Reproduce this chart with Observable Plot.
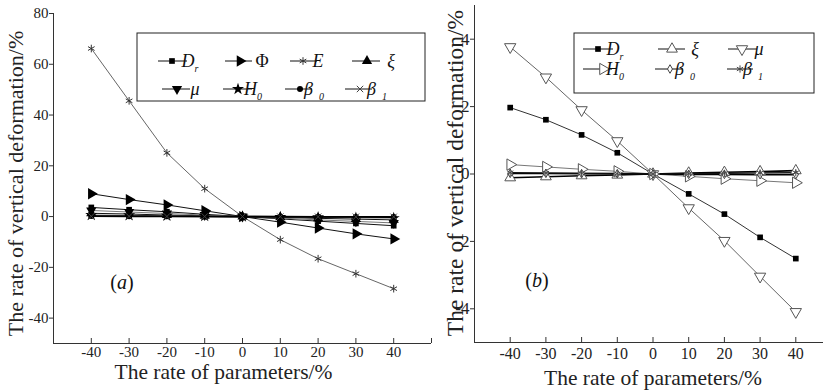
<!DOCTYPE html>
<html>
<head>
<meta charset="utf-8">
<script src="https://cdn.jsdelivr.net/npm/d3@7"></script>
<script src="https://cdn.jsdelivr.net/npm/@observablehq/plot@0.6"></script>
<style>
  html, body { margin: 0; padding: 0; background: #fff; }
  #wrap { position: relative; width: 823px; height: 392px; overflow: hidden; display: flex; }
  #panelA { width: 440px; flex: none; }
  #panelB { width: 383px; flex: none; overflow: visible; }
  svg { overflow: visible; max-width: none !important; }
</style>
</head>
<body>
<div id="wrap"><div id="panelA"></div><div id="panelB"></div></div>
<script>
// Change of each parameter (%)
const params = [-40, -30, -20, -10, 0, 10, 20, 30, 40];

// Panel (a): rate of vertical deformation (%)
const aDr    = [3.6, 2.7, 1.9, 0.9, 0, -0.9, -1.8, -2.7, -3.6];
const aPhi   = [9.0, 6.7, 4.6, 2.3, 0, -2.2, -4.5, -6.8, -8.8];
const aE     = [66.2, 45.6, 25.1, 11.0, 0, -9.1, -16.6, -22.5, -28.4];
const aXi    = [1.3, 1.0, 0.6, 0.3, 0, -0.3, -0.7, -1.0, -1.3];
const aMu    = [2.4, 1.8, 1.2, 0.6, 0, -0.6, -1.3, -1.9, -2.5];
const aH0    = [0.6, 0.5, 0.3, 0.2, 0, -0.2, -0.3, -0.5, -0.6];
const aBeta0 = [0.2, 0.15, 0.1, 0.05, 0, -0.05, -0.1, -0.15, -0.2];
const aBeta1 = [0.1, 0.08, 0.05, 0.03, 0, -0.03, -0.05, -0.08, -0.1];

// Panel (b): rate of vertical deformation (%)
const bDr    = [1.97, 1.61, 1.16, 0.63, 0, -0.59, -1.19, -1.88, -2.51];
const bXi    = [-0.11, -0.08, -0.05, -0.03, 0, 0.03, 0.05, 0.07, 0.10];
const bMu    = [3.77, 2.87, 1.90, 0.98, 0, -1.01, -1.98, -3.04, -4.09];
const bH0    = [0.28, 0.21, 0.14, 0.08, 0, -0.07, -0.14, -0.20, -0.26];
const bBeta0 = [0.02, 0.02, 0.01, 0.01, 0, -0.01, -0.01, -0.02, -0.02];
const bBeta1 = [0.04, 0.03, 0.02, 0.01, 0, 0.01, 0.02, 0.03, 0.04];

// Axis ticks
const xTicks = [-50, -40, -30, -20, -10, 0, 10, 20, 30, 40, 50];
const yTicksA = [-40, -20, 0, 20, 40, 60, 80];
const yTicksB = [-4, -2, 0, 2, 4];

const xTitle = "The rate of parameters/%";
const yTitle = "The rate of vertical deformation/%";
const FONT = "'Liberation Serif', 'Times New Roman', serif";
const INK = "#222";

const rows = (vals) => params.map((p, i) => ({x: p, y: vals[i]}));

// Series styling: marker symbol, rotation, fill, marker stroke, line colour
const seriesA = [
  {key: "Dr",    vals: aDr,    symbol: "square",   rotate: 0,   r: 3.2, fill: "#000", stroke: "none", line: "#111", lw: 1},
  {key: "Phi",   vals: aPhi,   symbol: "triangle", rotate: 90,  r: 4.2, fill: "#000", stroke: "none", line: "#111", lw: 1},
  {key: "E",     vals: aE,     symbol: "asterisk", rotate: 0,   r: 3.6, fill: "none", stroke: "#333", line: "#666", lw: 1},
  {key: "xi",    vals: aXi,    symbol: "triangle", rotate: 0,   r: 3.8, fill: "#000", stroke: "none", line: "#111", lw: 1},
  {key: "mu",    vals: aMu,    symbol: "triangle", rotate: 180, r: 3.8, fill: "#000", stroke: "none", line: "#777", lw: 1},
  {key: "H0",    vals: aH0,    symbol: "star",     rotate: 0,   r: 3.8, fill: "#000", stroke: "none", line: "#777", lw: 1},
  {key: "beta0", vals: aBeta0, symbol: "circle",   rotate: 0,   r: 3.0, fill: "#000", stroke: "none", line: "#000", lw: 1.6},
  {key: "beta1", vals: aBeta1, symbol: "times",    rotate: 0,   r: 3.0, fill: "none", stroke: "#444", line: "#000", lw: 1.6}
];

const seriesB = [
  {key: "Dr",    vals: bDr,    symbol: "square",   rotate: 0,   r: 3.2, fill: "#000", stroke: "none", line: "#333", lw: 1},
  {key: "xi",    vals: bXi,    symbol: "triangle", rotate: 0,   r: 4.0, fill: "#fff", stroke: "#555", line: "#000", lw: 1.6},
  {key: "mu",    vals: bMu,    symbol: "triangle", rotate: 180, r: 4.2, fill: "#fff", stroke: "#555", line: "#666", lw: 1},
  {key: "H0",    vals: bH0,    symbol: "triangle", rotate: 90,  r: 4.2, fill: "#fff", stroke: "#555", line: "#777", lw: 1},
  {key: "beta0", vals: bBeta0, symbol: "diamond",  rotate: 0,   r: 2.6, fill: "#fff", stroke: "#444", line: "#000", lw: 1.6},
  {key: "beta1", vals: bBeta1, symbol: "asterisk", rotate: 0,   r: 3.4, fill: "none", stroke: "#444", line: "#111", lw: 1.2}
];

function seriesMarks(series) {
  const marks = [];
  for (const s of series) {
    marks.push(Plot.line(rows(s.vals), {x: "x", y: "y", stroke: s.line, strokeWidth: s.lw}));
  }
  for (const s of series) {
    marks.push(Plot.dot(rows(s.vals), {
      x: "x", y: "y", symbol: s.symbol, rotate: s.rotate, r: s.r,
      fill: s.fill, stroke: s.stroke, strokeWidth: 1
    }));
  }
  return marks;
}

function panel({width, margins, yDomain, yTicks, series, xFont, yFont, titleFont, yTitleFont, xTitleOffset, yTitleOffset, xLabelPad, yLabelPad}) {
  return Plot.plot({
    width, height: 392,
    ...margins,
    x: {domain: [-50, 50], axis: null},
    y: {domain: yDomain, axis: null},
    style: {fontFamily: FONT, color: INK, background: "transparent", overflow: "visible", maxWidth: "none"},
    marks: [
      // tick marks pointing into the plot along the x axis
      Plot.axisX(xTicks, {tickSize: 5, dy: -5, fill: "none", label: null, stroke: "#333"}),
      Plot.axisX(xTicks, {tickSize: 0, tickPadding: xLabelPad, fontSize: xFont, fill: INK, label: null,
        tickFormat: d => (Math.abs(d) === 50 ? "" : String(d))}),
      Plot.axisY(yTicks, {tickSize: 4, tickPadding: yLabelPad, fontSize: yFont, fill: INK, stroke: "#333", label: null,
        tickFormat: d => String(d)}),
      Plot.ruleX([-50], {stroke: "#333"}),
      Plot.ruleY([yDomain[0]], {stroke: "#333"}),
      Plot.text([xTitle], {text: d => d, frameAnchor: "bottom", dx: xTitleOffset[0], dy: xTitleOffset[1],
        textAnchor: "middle", lineAnchor: "middle", fontSize: titleFont, fill: INK}),
      Plot.text([yTitle], {text: d => d, frameAnchor: "left", rotate: -90, dx: yTitleOffset[0], dy: yTitleOffset[1],
        textAnchor: "middle", lineAnchor: "middle", fontSize: yTitleFont, fill: INK}),
      ...seriesMarks(series)
    ]
  });
}

const chartA = panel({
  width: 440,
  margins: {marginLeft: 53, marginRight: 9, marginTop: 13, marginBottom: 49},
  yDomain: [-50, 80], yTicks: yTicksA, series: seriesA,
  xFont: 15, yFont: 15, titleFont: 21.5, yTitleFont: 22,
  xTitleOffset: [-19, 29], yTitleOffset: [-38, 5], xLabelPad: 3, yLabelPad: 1
});
const chartB = panel({
  width: 400,
  margins: {marginLeft: 34, marginRight: 9, marginTop: 5, marginBottom: 50},
  yDomain: [-5, 5], yTicks: yTicksB, series: seriesB,
  xFont: 16, yFont: 17, titleFont: 21.5, yTitleFont: 23.5,
  xTitleOffset: [0, 36], yTitleOffset: [-19, -1], xLabelPad: 5, yLabelPad: 1
});
document.getElementById("panelA").append(chartA);
document.getElementById("panelB").append(chartB);

// Legend boxes and panel tags
const symbolTypes = {
  square: d3.symbolSquare, triangle: d3.symbolTriangle, asterisk: d3.symbolAsterisk,
  star: d3.symbolStar, circle: d3.symbolCircle, times: d3.symbolTimes, diamond: d3.symbolDiamond
};

const labelsA = {
  Dr: [["D", "i"], ["r", "s"]], Phi: [["Φ", "n"]], E: [["E", "i"]], xi: [["ξ", "i"]],
  mu: [["μ", "i"]], H0: [["H", "i"], ["0", "s"]], beta0: [["β", "i"], ["0", "S"]], beta1: [["β", "i"], ["1", "S"]]
};

function drawLegend(svg, box, items, series, labels) {
  const g = d3.select(svg).append("g").attr("font-family", FONT);
  g.append("rect").attr("x", box[0]).attr("y", box[1]).attr("width", box[2] - box[0]).attr("height", box[3] - box[1])
    .attr("fill", "#fff").attr("stroke", "#222").attr("stroke-width", 1);
  for (const it of items) {
    const s = series.find(d => d.key === it.key);
    g.append("line").attr("x1", it.l0).attr("x2", it.l1).attr("y1", it.y).attr("y2", it.y)
      .attr("stroke", "#111").attr("stroke-width", 1);
    const area = Math.PI * s.r * s.r;
    g.append("path").attr("d", d3.symbol(symbolTypes[s.symbol], area)())
      .attr("transform", `translate(${it.m},${it.y}) rotate(${s.rotate})`)
      .attr("fill", s.fill).attr("stroke", s.stroke === "none" ? null : s.stroke);
    const t = g.append("text").attr("x", it.t).attr("y", it.y + 6).attr("font-size", 18).attr("fill", "#111");
    for (const [str, kind] of labels[it.key]) {
      if (kind === "i") t.append("tspan").attr("font-style", "italic").text(str);
      else if (kind === "n") t.append("tspan").text(str);
      else if (kind === "s") t.append("tspan").attr("font-style", "italic").attr("font-size", 10).attr("dy", 5).text(str);
      else t.append("tspan").attr("font-style", "italic").attr("font-size", 10).attr("dx", 6).attr("dy", 5).text(str);
    }
  }
}

drawLegend(chartA, [137, 33, 425, 101], [
  {key: "Dr", y: 61, l0: 158, l1: 187, m: 172, t: 190},
  {key: "Phi", y: 61, l0: 225, l1: 252, m: 240, t: 262},
  {key: "E", y: 61, l0: 290, l1: 317, m: 303, t: 318},
  {key: "xi", y: 61, l0: 352, l1: 380, m: 367, t: 391},
  {key: "mu", y: 89, l0: 162, l1: 190, m: 177, t: 195},
  {key: "H0", y: 89, l0: 223, l1: 252, m: 238, t: 253},
  {key: "beta0", y: 89, l0: 285, l1: 312, m: 300, t: 314},
  {key: "beta1", y: 89, l0: 345, l1: 372, m: 360, t: 377}
], seriesA, labelsA);

drawLegend(chartB, [134, 33, 374, 93], [
  {key: "Dr", y: 49, l0: 143, l1: 173, m: 158, t: 175},
  {key: "xi", y: 49, l0: 218, l1: 245, m: 232, t: 255},
  {key: "mu", y: 49, l0: 288, l1: 317, m: 302, t: 319},
  {key: "H0", y: 69, l0: 143, l1: 172, m: 163, t: 175},
  {key: "beta0", y: 69, l0: 215, l1: 243, m: 230, t: 245},
  {key: "beta1", y: 69, l0: 287, l1: 313, m: 300, t: 313}
], seriesB, labelsA);

function tag(svg, x, y, letter) {
  const t = d3.select(svg).append("text").attr("x", x).attr("y", y).attr("font-family", FONT)
    .attr("font-size", 20).attr("fill", "#111").attr("text-anchor", "middle").attr("dominant-baseline", "middle");
  t.append("tspan").text("(");
  t.append("tspan").attr("font-style", "italic").text(letter);
  t.append("tspan").text(")");
}
tag(chartA, 122, 284, "a");
tag(chartB, 97, 282, "b");
</script>
</body>
</html>
